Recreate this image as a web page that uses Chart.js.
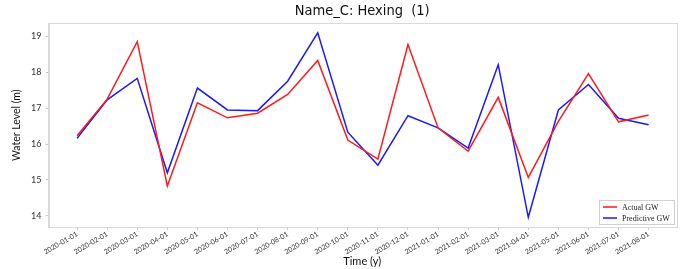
<!DOCTYPE html>
<html>
<head>
<meta charset="utf-8">
<script src="https://cdn.jsdelivr.net/npm/chart.js@4/dist/chart.umd.min.js"></script>
<style>
  html, body { margin: 0; padding: 0; background: #fff; }
  #wrap { width: 682px; height: 269px; }
</style>
</head>
<body>
<div id="wrap"><canvas id="chartCanvas"></canvas></div>
<script>
// dates along the x axis
const dates = ['2020-01-01', '2020-02-01', '2020-03-01', '2020-04-01', '2020-05-01',
  '2020-06-01', '2020-07-01', '2020-08-01', '2020-09-01', '2020-10-01',
  '2020-11-01', '2020-12-01', '2021-01-01', '2021-02-01', '2021-03-01',
  '2021-04-01', '2021-05-01', '2021-06-01', '2021-07-01', '2021-08-01'];
// water levels
const actualGW = [16.23, 17.25, 18.85, 14.83, 17.15, 16.73, 16.86, 17.38, 18.33, 16.11,
  15.58, 18.77, 16.45, 15.80, 17.30, 15.07, 16.63, 17.96, 16.62, 16.81];
const predictiveGW = [16.16, 17.23, 17.83, 15.20, 17.56, 16.95, 16.93, 17.75, 19.10, 16.33,
  15.41, 16.79, 16.45, 15.89, 18.21, 13.96, 16.95, 17.66, 16.72, 16.54];
const yTicks = [14, 15, 16, 17, 18, 19];

const toPoints = vals => vals.map((v, i) => ({ x: i, y: v }));

// box around the plot + legend in the lower right corner
const framePlugin = {
  id: 'frame',
  afterDraw(chart) {
    const c = chart.ctx, a = chart.chartArea;
    c.save();
    c.strokeStyle = '#d9d9d9';
    c.lineWidth = 1;
    c.strokeRect(Math.round(a.left) + 0.5, Math.round(a.top) + 0.5,
      Math.round(a.right - a.left), Math.round(a.bottom - a.top));

    // legend
    const w = 75, h = 24;
    const x0 = a.right - w - 2, y0 = a.bottom - h - 3;
    c.fillStyle = 'rgba(255,255,255,0.85)';
    c.fillRect(x0, y0, w, h);
    c.strokeStyle = '#d0d0d0';
    c.strokeRect(x0 + 0.5, y0 + 0.5, w, h);
    c.font = '8px "Liberation Serif", "DejaVu Serif", serif';
    c.textBaseline = 'middle';
    chart.data.datasets.forEach((ds, i) => {
      const yy = y0 + 7 + i * 11;
      c.strokeStyle = ds.borderColor;
      c.lineWidth = 1.5;
      c.beginPath();
      c.moveTo(x0 + 4, yy);
      c.lineTo(x0 + 18, yy);
      c.stroke();
      c.fillStyle = '#222';
      c.fillText(ds.label, x0 + 23, yy + 0.5);
    });
    c.restore();
  }
};

const ctx = document.getElementById('chartCanvas').getContext('2d');
new Chart(ctx, {
  type: 'line',
  data: {
    datasets: [{
      label: 'Actual GW',
      data: toPoints(actualGW),
      borderColor: '#ff1a1a',
      borderWidth: 1.5,
      pointRadius: 0,
      tension: 0
    }, {
      label: 'Predictive GW',
      data: toPoints(predictiveGW),
      borderColor: '#1a1aff',
      borderWidth: 1.5,
      pointRadius: 0,
      tension: 0
    }]
  },
  options: {
    responsive: true,
    maintainAspectRatio: false,
    animation: false,
    layout: { padding: { left: 10, right: 6, top: 0, bottom: 1 } },
    plugins: {
      legend: { display: false },
      tooltip: { enabled: false },
      title: {
        display: true,
        fullSize: false,
        text: 'Name_C: Hexing  (1)',
        color: '#111',
        font: { family: '"Liberation Sans Narrow", "DejaVu Sans Condensed", sans-serif', size: 14.5, weight: 'normal' },
        padding: { top: 3, bottom: 3 }
      }
    },
    scales: {
      x: {
        type: 'linear',
        min: -0.95,
        max: 19.91,
        afterBuildTicks: s => { s.ticks = dates.map((d, i) => ({ value: i })); },
        afterFit: s => { s.height = 41; },
        grid: { drawOnChartArea: false, drawTicks: true, tickLength: 3, color: '#cccccc' },
        border: { display: true, color: '#d9d9d9' },
        ticks: {
          autoSkip: false,
          minRotation: 30,
          maxRotation: 30,
          padding: 0,
          color: '#333',
          font: { family: 'Lato, sans-serif', size: 7 },
          callback: v => dates[v]
        },
        title: {
          display: true,
          text: 'Time (y)',
          color: '#111',
          padding: { top: 0, bottom: 0 },
          font: { family: 'Lato, sans-serif', size: 11 }
        }
      },
      y: {
        min: 13.69,
        max: 19.36,
        afterBuildTicks: s => { s.ticks = yTicks.map(v => ({ value: v })); },
        afterFit: s => { s.width = 38.5; },
        grid: { drawOnChartArea: false, drawTicks: true, tickLength: 3, color: '#cccccc' },
        border: { display: true, color: '#d9d9d9' },
        ticks: {
          padding: 4,
          color: '#333',
          font: { family: 'Lato, sans-serif', size: 9 }
        },
        title: {
          display: true,
          text: 'Water Level (m)',
          color: '#111',
          padding: { top: 0, bottom: 2 },
          font: { family: 'Lato, sans-serif', size: 10.5 }
        }
      }
    }
  },
  plugins: [framePlugin]
});
</script>
</body>
</html>
